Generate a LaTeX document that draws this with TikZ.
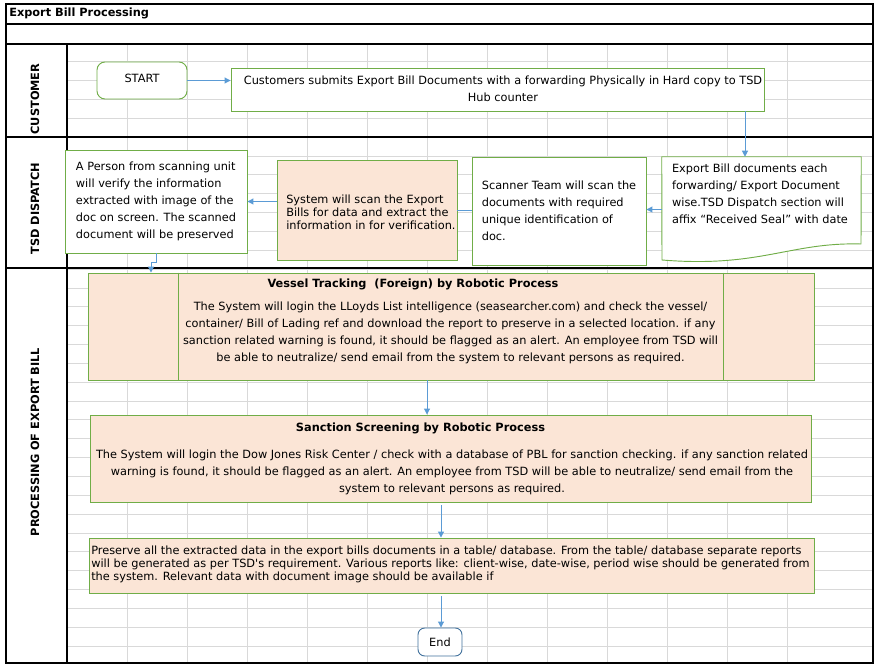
\documentclass[tikz,border=0pt]{standalone}
\usepackage{fontspec}
\setmainfont{DejaVu Sans}
\newfontfamily\plainfont{DejaVu Sans}
\usetikzlibrary{arrows.meta,calc}
\definecolor{grn}{HTML}{70AD47}
\definecolor{peach}{HTML}{FBE5D6}
\definecolor{arrblue}{HTML}{5B9BD5}
\definecolor{endblue}{HTML}{41719C}
\definecolor{gridgray}{HTML}{D9D9D9}
\begin{document}
\begin{tikzpicture}[x=0.75pt,y=-0.75pt,
  box/.style={draw=grn, line width=0.7pt, fill=white, inner sep=0pt, rectangle,
    font=\fontsize{8.5}{12.75}\selectfont, align=left},
  pbox/.style={box, fill=peach},
  txt/.style={inner sep=0pt, font=\fontsize{8.5}{12.75}\selectfont},
  tighttxt/.style={inner sep=0pt, font=\fontsize{8.5}{9.75}\selectfont},
  btxt/.style={inner sep=0pt, font=\fontsize{8.5}{10}\selectfont\bfseries},
  lane/.style={inner sep=0pt, rotate=90, font=\fontsize{8.5}{10}\selectfont\bfseries},
  arr/.style={draw=arrblue, line width=0.75pt, -{Triangle[length=4.5pt,width=4.5pt]}},
  lnk/.style={draw=arrblue, line width=0.75pt},
  border/.style={draw=black, line width=1pt},
  gridln/.style={draw=gridgray, line width=0.75pt}
]
\useasboundingbox (0,0) rectangle (879,670);
% grid
\foreach \x in {127,187,...,787} \draw[gridln] (\x,44) -- (\x,663);
\foreach \k in {1,...,32} \draw[gridln] (67,{43+18.85*\k}) -- (873,{43+18.85*\k});
% frame
\draw[border] (6,4) rectangle (873,663);
\draw[border] (6,24) -- (873,24);
\draw[border] (6,44) -- (873,44);
\draw[border] (6,137) -- (873,137);
\draw[border] (6,268) -- (873,268);
\draw[border] (67,44) -- (67,663);
\node[btxt, anchor=west] (title) at (9,13) {Export Bill Processing};
\node[lane] (lcust) at (35,99) {CUSTOMER};
\node[lane] (ltsd) at (35,208.5) {TSD DISPATCH};
\node[lane] (lproc) at (35,442) {PROCESSING OF EXPORT BILL};
% customer lane
\node[box, rounded corners=6pt, minimum width={90*0.75pt}, minimum height={37*0.75pt}] (start) at (142,80.5) {};
\node[txt] (starttxt) at (142,78) {START};
\node[box, align=center, minimum width={533*0.75pt}, minimum height={43*0.75pt}] (cust) at (497.5,89.5) {};
\node[txt, align=center] (custtxt) at (503,88.5) {Customers submits Export Bill Documents with a forwarding Physically in Hard copy to TSD\\Hub counter};
% TSD dispatch lane
\node[draw=none, inner sep=0pt, minimum width={199*0.75pt}, minimum height={105*0.75pt}] (exp) at (761.5,209.5) {};
\draw[draw=grn, line width=0.7pt, fill=white] (exp.north west) -- (exp.north east) -- (861,244)
  .. controls (790,242) and (760,268) .. (662,260) -- cycle;
\node[txt, align=left] (exptxt) at (760,193.5) {Export Bill documents each\\forwarding/ Export Document\\wise.TSD Dispatch section will\\affix “Received Seal” with date};
\node[box, minimum width={174*0.75pt}, minimum height={108*0.75pt}] (scan) at (559,211) {Scanner Team will scan the\\documents with required\\unique identification of\\doc.};
\node[pbox, minimum width={180*0.75pt}, minimum height={100*0.75pt}] (sys) at (367,210) {};
\node[tighttxt, align=left, anchor=west] (systxt) at (286,212) {System will scan the Export\\Bills for data and extract the\\information in for verification.};
\node[box, minimum width={182*0.75pt}, minimum height={103*0.75pt}] (person) at (156,201.5) {A Person from scanning unit\\will verify the information\\extracted with image of the\\doc on screen. The scanned\\document will be preserved};
% processing lane
\node[pbox, minimum width={726*0.75pt}, minimum height={107*0.75pt}] (vessel) at (451,326.5) {};
\draw[draw=grn, line width=0.7pt] (vessel.north -| 178,0) -- (vessel.south -| 178,0);
\draw[draw=grn, line width=0.7pt] (vessel.north -| 723,0) -- (vessel.south -| 723,0);
\node[btxt] (vtitle) at (413,284) {Vessel Tracking\ \ (Foreign) by Robotic Process};
\node[txt, align=center] (vbody) at (450.5,332.5) {The System will login the LLoyds List intelligence (seasearcher.com) and check the vessel/\\container/ Bill of Lading ref and download the report to preserve in a selected location. if any\\sanction related warning is found, it should be flagged as an alert. An employee from TSD will\\be able to neutralize/ send email from the system to relevant persons as required.};
\node[pbox, minimum width={721*0.75pt}, minimum height={87*0.75pt}] (sanc) at (450.5,458.5) {};
\node[btxt] (stitle) at (420.5,428) {Sanction Screening by Robotic Process};
\node[txt, align=center] (sbody) at (452,472) {The System will login the Dow Jones Risk Center / check with a database of PBL for sanction checking. if any sanction related\\warning is found, it should be flagged as an alert. An employee from TSD will be able to neutralize/ send email from the\\system to relevant persons as required.};
\node[pbox, minimum width={725*0.75pt}, minimum height={55*0.75pt}] (pres) at (451.5,565.5) {};
\node[tighttxt, align=left, anchor=west, font=\fontsize{8.5}{9.75}\plainfont] (prestxt) at (91,564) {Preserve all the extracted data in the export bills documents in a table/ database. From the table/ database separate reports\\will be generated as per TSD's requirement. Various reports like: client-wise, date-wise, period wise should be generated from\\the system. Relevant data with document image should be available if};
\node[box, draw=endblue, rounded corners=5pt, minimum width={44*0.75pt}, minimum height={28*0.75pt}] (endn) at (440,642) {End};
% connectors
\draw[arr] (start.east) -- (start.east -| cust.west);
\draw[arr] (cust.south -| 745,0) -- (exp.north -| 745,0);
\draw[arr] (exp.west) -- (exp.west -| scan.east);
\draw[lnk] (scan.west) -- (scan.west -| sys.east);
\draw[arr] (sys.west |- person.east) -- (person.east);
\draw[arr] (person.south) -- ++(0,9) -- ++(-5,0) -- (vessel.north -| 151,0);
\draw[arr] (vessel.south -| 427,0) -- (sanc.north -| 427,0);
\draw[arr] ([yshift=-2pt]sanc.south -| 441,0) -- (pres.north -| 441,0);
\draw[arr] ([yshift=-2pt]pres.south -| 441,0) -- (endn.north -| 441,0);
\end{tikzpicture}
\end{document}
